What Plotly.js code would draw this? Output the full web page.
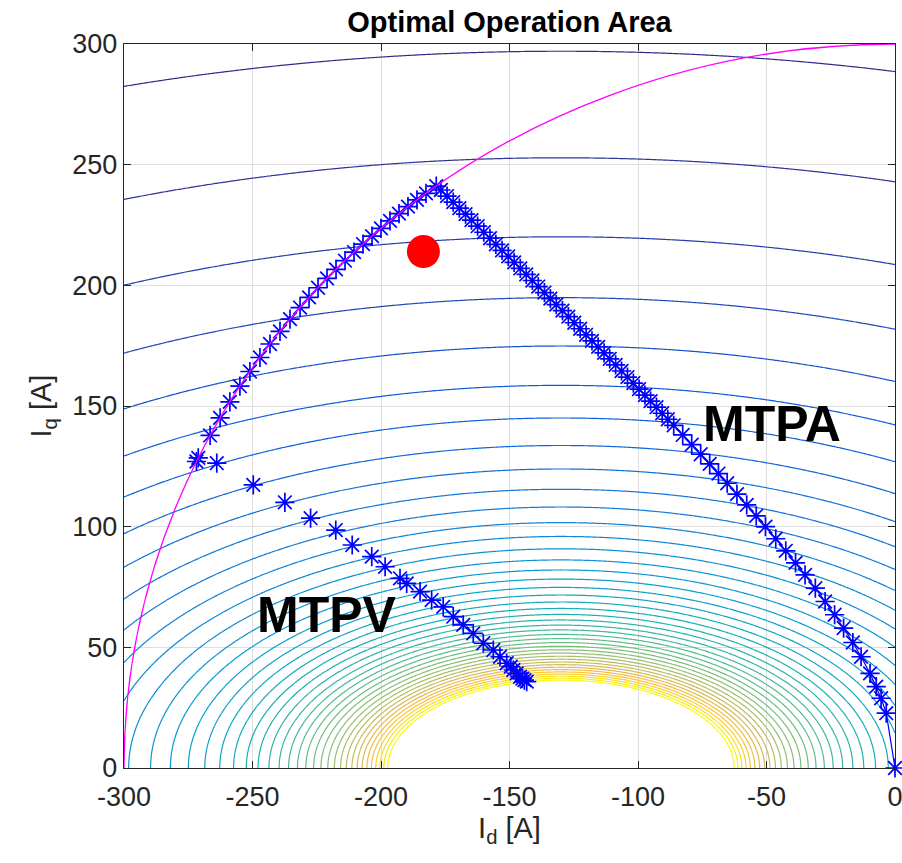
<!DOCTYPE html>
<html>
<head>
<meta charset="utf-8">
<script src="https://cdn.plot.ly/plotly-3.0.1.min.js"></script>
<style>html,body{margin:0;padding:0;background:#fff;}#chart{width:902px;height:863px;}</style>
</head>
<body>
<div id="chart"></div>
<script>
// ---- Voltage/speed ellipse family ----
const ellipseCenterId = -130;      // A, common centre of the ellipses on the Id axis
const ellipseAxisRatio = 0.54;     // iq semi-axis / id semi-axis
const levelOutermostIq = 297;      // A, outermost contour height at the centre
const levelStep = 0.000588;        // spacing of levels (1/A)
const levelCount = 42;             // number of contour lines drawn
const gridId = [];                 // grid of the contour field
const gridIq = [];
for (let v = -300; v <= 0; v += 1) gridId.push(v);
for (let v = 0; v <= 300; v += 1) gridIq.push(v);

// ---- Tick labels ----
const xTickVals = [-300, -250, -200, -150, -100, -50, 0];
const xTickText = ['-300', '-250', '-200', '-150', '-100', '-50', '0'];
const yTickVals = [0, 50, 100, 150, 200, 250, 300];
const yTickText = ['0', '50', '100', '150', '200', '250', '300'];

// ---- MTPA trajectory ----
const mtpaId = [0, -3.4, -5.4, -7.3, -9.7, -13.2, -16.4, -20.0, -23.5, -27.2, -31.0, -35.0, -38.7, -42.5, -46.4, -50.4, -54.0, -57.7, -61.5, -65.3, -68.7, -72.1, -75.6, -79.1, -82.6, -86.1,
  -88.4, -90.6, -92.8, -95.1, -97.3, -99.6, -101.8, -104.1, -106.4, -108.7, -111.0, -113.2, -115.5, -117.9, -120.2, -122.5, -124.8, -127.1, -129.4, -131.8, -134.1, -136.4, -138.8, -141.1, -143.5, -145.8, -148.2, -150.5, -152.9, -155.3, -157.6, -160.0, -162.4, -164.8, -167.1, -169.5, -171.9, -174.3, -176.7, -178.5];
const mtpaIq = [0, 22.7, 28.9, 33.7, 39.2, 46.1, 52, 58, 63.5, 69, 74.5, 80, 85, 90, 95, 100, 104.5, 109, 113.5, 118, 122, 126, 130, 134, 138, 142,
  144.5, 147, 149.5, 152, 154.5, 157, 159.5, 162, 164.5, 167, 169.5, 172, 174.5, 177, 179.5, 182, 184.5, 187, 189.5, 192, 194.5, 197, 199.5, 202, 204.5, 207, 209.5, 212, 214.5, 217, 219.5, 222, 224.5, 227, 229.5, 232, 234.5, 237, 239.5, 241.1];

// ---- Points along the current limit ----
const limitId = [-182.5, -186, -189.5, -193, -196.5, -200, -203.5, -207, -210.5, -214, -217.5, -221, -224.5, -228, -231.5, -235.4, -239.3, -243.2, -247.1, -251, -254.9, -258.8, -262.6, -266.5, -271.1, -271.8];
const limitIq = [238.1, 235.4, 232.6, 229.7, 226.7, 223.6, 220.4, 217.1, 213.8, 210.2, 206.6, 202.9, 199.0, 195.0, 190.8, 186.0, 180.9, 175.7, 170.1, 164.3, 158.2, 151.7, 145.1, 137.8, 128.5, 127.0];

// ---- MTPV trajectory ----
const mtpvId = [-263.9, -249.7, -237.4, -227.4, -217.6, -211.2, -203.6, -198.4, -192.6, -190.0, -184.8, -180.3, -175.8, -171.9, -168.0, -164.1, -160.2, -156.3, -153.7, -151.1, -149.5, -148.5, -147.2, -145.9, -145.0, -144.2, -143.3];
const mtpvIq = [126.3, 117.3, 110.1, 103.5, 98.6, 92.4, 87.6, 83.4, 78.6, 76.5, 73.1, 69.6, 66.8, 62.7, 59.3, 55.8, 51.7, 48.9, 46.1, 43.4, 42.0, 40.6, 39.2, 37.8, 37.0, 36.4, 35.8];

// ---- Operating point and current limit ----
const opPointId = [-183.5];
const opPointIq = [214];
const currentLimit = 300; // A

// ---- Labels ----
const labelText = ['MTPA', 'MTPV'];
const labelId = [-48, -221];
const labelIq = [142.6, 63.4];

const FONT = 'Liberation Sans, Arial, Helvetica, sans-serif';
const INK = '#262626';

const levelStart = 1 / levelOutermostIq;
const levelEnd = levelStart + (levelCount - 1) * levelStep;

const zField = gridIq.map(q => gridId.map(d => {
  const r = Math.hypot(ellipseAxisRatio * (d - ellipseCenterId), q);
  return r > 0 ? Math.min(1 / r, 0.05) : 0.05;
}));

const parula = [
  [0.000, 'rgb(53,42,135)'],
  [0.125, 'rgb(15,92,221)'],
  [0.250, 'rgb(18,125,216)'],
  [0.375, 'rgb(7,156,207)'],
  [0.500, 'rgb(21,177,180)'],
  [0.625, 'rgb(89,189,140)'],
  [0.750, 'rgb(165,190,107)'],
  [0.840, 'rgb(220,186,84)'],
  [0.900, 'rgb(252,192,58)'],
  [0.950, 'rgb(245,223,40)'],
  [1.000, 'rgb(249,251,14)']
];

const starMarker = { symbol: 'asterisk-open', size: 16, color: '#0000FF', line: { color: '#0000FF', width: 1.7 } };

const traces = [
  {
    type: 'contour', x: gridId, y: gridIq, z: zField,
    autocontour: false,
    contours: { coloring: 'lines', start: levelStart, end: levelEnd + levelStep * 0.01, size: levelStep, showlabels: false },
    colorscale: parula, zauto: false, zmin: levelStart, zmax: levelEnd,
    line: { width: 1.2, smoothing: 1 }, showscale: false, hoverinfo: 'skip'
  },
  {
    type: 'scatter', mode: 'lines+markers', x: mtpaId, y: mtpaIq,
    line: { color: '#0000FF', width: 1.2 }, marker: starMarker,
    cliponaxis: false, hoverinfo: 'skip'
  },
  {
    type: 'scatter', mode: 'markers', x: limitId, y: limitIq,
    marker: starMarker, hoverinfo: 'skip'
  },
  {
    type: 'scatter', mode: 'markers', x: mtpvId, y: mtpvIq,
    marker: starMarker, hoverinfo: 'skip'
  },
  {
    type: 'scatter', mode: 'markers', x: opPointId, y: opPointIq,
    marker: { symbol: 'circle', size: 33, color: '#FF0000', line: { width: 0 } },
    hoverinfo: 'skip'
  }
];

const axisCommon = {
  ticks: 'inside', ticklen: 7, tickwidth: 1, tickcolor: INK,
  showline: true, linecolor: INK, linewidth: 1.3, mirror: 'ticks',
  showgrid: true, gridcolor: '#dfdfdf', gridwidth: 1, zeroline: false,
  tickfont: { family: FONT, size: 27, color: INK },
  tickmode: 'array', ticklabeloverflow: 'allow', fixedrange: true
};

const layout = {
  width: 902, height: 863,
  margin: { l: 124, r: 7, t: 44, b: 95 },
  paper_bgcolor: '#ffffff', plot_bgcolor: '#ffffff',
  showlegend: false,
  title: {
    text: 'Optimal Operation Area',
    font: { family: FONT, size: 29, color: '#000000', weight: 'bold' },
    xref: 'paper', x: 0.5, xanchor: 'center',
    yref: 'container', y: 1 - 22 / 863, yanchor: 'middle'
  },
  xaxis: Object.assign({}, axisCommon, {
    range: [-300, 0], tickvals: xTickVals, ticktext: xTickText, ticklabelstandoff: 4,
    title: { text: 'I<sub>d</sub> [A]', font: { family: FONT, size: 29, color: INK }, standoff: 2 }
  }),
  yaxis: Object.assign({}, axisCommon, {
    range: [0, 300], tickvals: yTickVals, ticktext: yTickText,
    title: { text: 'I<sub>q</sub> [A]', font: { family: FONT, size: 29, color: INK }, standoff: 12 }
  }),
  shapes: [{
    type: 'circle', xref: 'x', yref: 'y',
    x0: -currentLimit, x1: currentLimit, y0: -currentLimit, y1: currentLimit,
    line: { color: '#FF00FF', width: 1.3 }, layer: 'above'
  }],
  annotations: labelText.map((t, i) => ({
    x: labelId[i], y: labelIq[i], xref: 'x', yref: 'y', text: t, showarrow: false,
    xanchor: 'center', yanchor: 'middle',
    font: { family: FONT, size: 50, color: '#000000', weight: 'bold' }
  }))
};

Plotly.newPlot('chart', traces, layout, { staticPlot: true, displayModeBar: false });
</script>
</body>
</html>
